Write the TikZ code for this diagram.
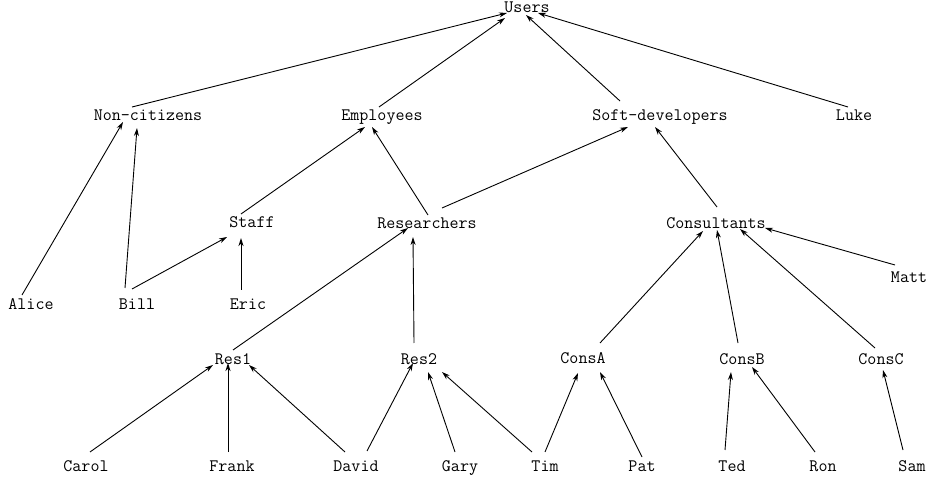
\documentclass[tikz,border=0pt]{standalone}
\usepackage{fontspec}
\usetikzlibrary{arrows.meta}
\tikzset{
  lbl/.style={inner sep=0pt, text height=0.94em, text depth=0pt,
              font=\ttfamily\fontsize{17.5}{20}\selectfont, text=black},
  arr/.style={draw=black, line width=0.9pt, -{Stealth[length=8pt,width=5pt,inset=2.5pt]}}
}
\newcommand{\lnk}[4]{\draw[arr] ([shift={#2}]#1.center) -- ([shift={#4}]#3.center);}
\begin{document}
\begin{tikzpicture}[x=1pt,y=1pt]
\useasboundingbox (0,0) rectangle (931,479);
% nodes
\node[lbl] (users) at (527,471) {Users};
\node[lbl] (nc) at (148,363) {Non-citizens};
\node[lbl] (emp) at (382,363) {Employees};
\node[lbl] (soft) at (660,363) {Soft-developers};
\node[lbl] (luke) at (854,363) {Luke};
\node[lbl] (staff) at (252,256) {Staff};
\node[lbl] (res) at (427,255) {Researchers};
\node[lbl] (cons) at (716,255) {Consultants};
\node[lbl] (alice) at (31,174) {Alice};
\node[lbl] (bill) at (137,174) {Bill};
\node[lbl] (eric) at (248,174) {Eric};
\node[lbl] (matt) at (909,201) {Matt};
\node[lbl] (res1) at (233,119) {Res1};
\node[lbl] (res2) at (419,119) {Res2};
\node[lbl] (consa) at (583,120) {ConsA};
\node[lbl] (consb) at (742,119) {ConsB};
\node[lbl] (consc) at (881,119) {ConsC};
\node[lbl] (carol) at (86,12) {Carol};
\node[lbl] (frank) at (232,12) {Frank};
\node[lbl] (david) at (356,12) {David};
\node[lbl] (gary) at (460,12) {Gary};
\node[lbl] (tim) at (545,12) {Tim};
\node[lbl] (pat) at (642,12) {Pat};
\node[lbl] (ted) at (732,12) {Ted};
\node[lbl] (ron) at (823,12) {Ron};
\node[lbl] (sam) at (912,12) {Sam};
% edges
\lnk{nc}{(-16,9)}{users}{(-20,-5)}
\lnk{emp}{(-3,9)}{users}{(-22,-10)}
\lnk{soft}{(-40,15)}{users}{(-1,-7)}
\lnk{luke}{(-6,9)}{users}{(11,-5)}
\lnk{alice}{(-9,10)}{nc}{(-25,-6)}
\lnk{bill}{(-12,17)}{nc}{(-11,-12)}
\lnk{bill}{(-5,16)}{staff}{(-25,-14)}
\lnk{eric}{(-7,15)}{staff}{(-11,-15)}
\lnk{staff}{(-11,9)}{emp}{(-17,-11)}
\lnk{res}{(1,9)}{emp}{(-10,-11)}
\lnk{res}{(15,16)}{soft}{(-32,-11)}
\lnk{cons}{(1,17)}{soft}{(-5,-11)}
\lnk{res1}{(0,10)}{res}{(-19,-4)}
\lnk{res2}{(-5,17)}{res}{(-14,-13)}
\lnk{consa}{(17,16)}{cons}{(-13,-7)}
\lnk{consb}{(-4,17)}{cons}{(1,-6)}
\lnk{consc}{(-6,12)}{cons}{(24,-5)}
\lnk{matt}{(-14,13)}{cons}{(49,-4)}
\lnk{carol}{(4,15)}{res1}{(-20,-5)}
\lnk{frank}{(-4,15)}{res1}{(-5,-3)}
\lnk{david}{(-11,15)}{res1}{(16,-5)}
\lnk{david}{(11,16)}{res2}{(-6,-3)}
\lnk{gary}{(-5,15)}{res2}{(9,-12)}
\lnk{tim}{(-13,15)}{res2}{(23,-12)}
\lnk{tim}{(0,15)}{consa}{(-5,-14)}
\lnk{pat}{(0,10)}{consa}{(17,-13)}
\lnk{ted}{(-7,17)}{consb}{(-11,-12)}
\lnk{ron}{(-8,15)}{consb}{(10,-7)}
\lnk{sam}{(-9,17)}{consc}{(2,-10)}
\end{tikzpicture}
\end{document}
